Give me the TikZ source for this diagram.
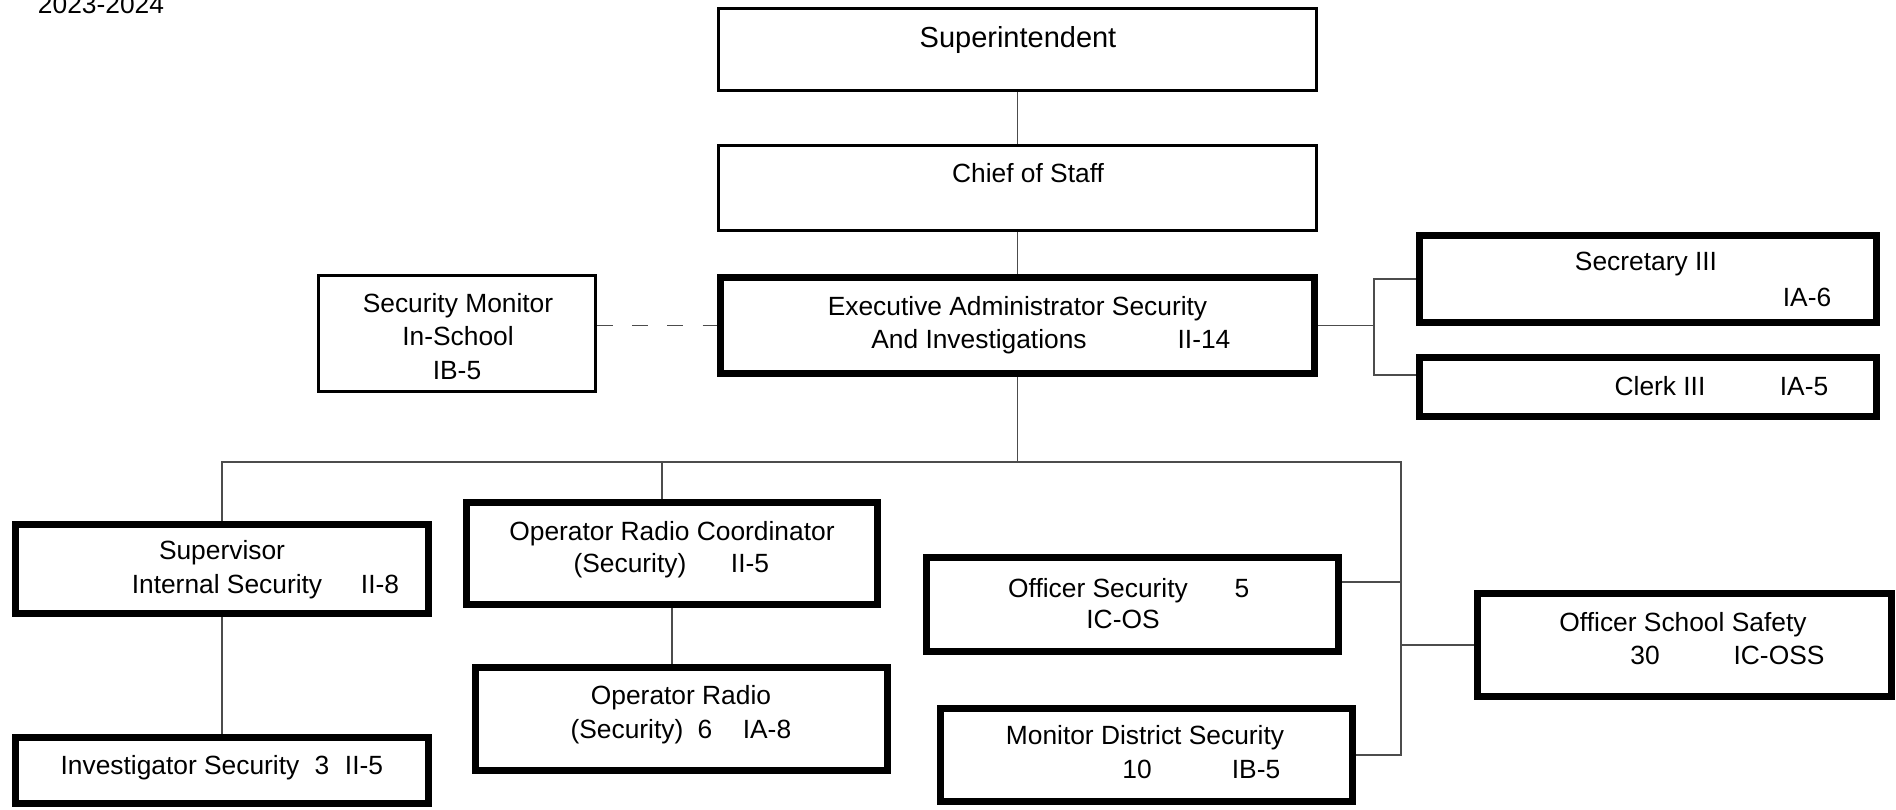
\documentclass[tikz,border=0pt]{standalone}
\usepackage{fontspec}
\setmainfont{Liberation Sans}
\usetikzlibrary{positioning}

\tikzset{
  thinbox/.style={draw, line width=1.9pt, inner sep=0pt},
  thickbox/.style={draw, line width=4pt, inner sep=0pt},
  link/.style={draw=black!70, line width=0.75pt},
  txt/.style={anchor=base, inner sep=0pt, font=\fontsize{15}{18}\selectfont},
}

\begin{document}
\begin{tikzpicture}[x=0.02cm, y=-0.02cm]
  \useasboundingbox (0,0) rectangle (1896,809);

  \node[txt] (year) at (101,13) {2023-2024};

  % top of the chart
  \node[thinbox, minimum width=11.96cm, minimum height=1.64cm] (super) at (1017.5,49.5) {};
  \node[thinbox, minimum width=11.96cm, minimum height=1.70cm] (chief) at (1017.5,188) {};
  \node[thickbox, minimum width=11.88cm, minimum height=1.92cm] (exec) at (1017.5,325.5) {};
  \node[thinbox, minimum width=5.54cm, minimum height=2.32cm] (secmon) at (457,333.5) {};
  \node[thickbox, minimum width=9.14cm, minimum height=1.74cm] (secr) at (1648,279) {};
  \node[thickbox, minimum width=9.14cm, minimum height=1.18cm] (clerk) at (1648,387) {};

  \node[txt, font=\fontsize{16.5}{20}\selectfont] (superT) at (1018,47) {Superintendent};
  \node[txt] (chiefT) at (1028,182) {Chief of Staff};
  \node[txt] (execT1) at (1017.5,315) {Executive Administrator Security};
  \node[txt] (execT2) at (979,348) {And Investigations};
  \node[txt] (execC) at (1204,348) {II-14};
  \node[txt] (secmonT1) at (458,312) {Security Monitor};
  \node[txt] (secmonT2) at (458,345) {In-School};
  \node[txt] (secmonC) at (457,379) {IB-5};
  \node[txt] (secrT) at (1646,270) {Secretary III};
  \node[txt] (secrC) at (1807,306) {IA-6};
  \node[txt] (clerkT) at (1660,395) {Clerk III};
  \node[txt] (clerkC) at (1804,395) {IA-5};

  % lower row
  \node[thickbox, minimum width=8.26cm, minimum height=1.78cm] (supv) at (222,569) {};
  \node[thickbox, minimum width=8.26cm, minimum height=1.32cm] (invs) at (222,770.5) {};
  \node[thickbox, minimum width=8.22cm, minimum height=2.04cm] (orc) at (672,553.5) {};
  \node[thickbox, minimum width=8.24cm, minimum height=2.06cm] (orad) at (681.5,719) {};
  \node[thickbox, minimum width=8.24cm, minimum height=1.88cm] (offsec) at (1132.5,604.5) {};
  \node[thickbox, minimum width=8.24cm, minimum height=1.86cm] (mds) at (1146.5,755) {};
  \node[thickbox, minimum width=8.28cm, minimum height=2.06cm] (oss) at (1684.5,645) {};

  \node[txt] (supvT1) at (222,559) {Supervisor};
  \node[txt] (supvT2) at (227,593) {Internal Security};
  \node[txt] (supvC) at (380,593) {II-8};
  \node[txt] (invsT) at (180,774) {Investigator Security};
  \node[txt] (invsN) at (322,774) {3};
  \node[txt] (invsC) at (364,774) {II-5};
  \node[txt] (orcT1) at (672,540) {Operator Radio Coordinator};
  \node[txt] (orcT2) at (630,572) {(Security)};
  \node[txt] (orcC) at (750,572) {II-5};
  \node[txt] (oradT1) at (681,704) {Operator Radio};
  \node[txt] (oradT2) at (627,738) {(Security)};
  \node[txt] (oradN) at (705,738) {6};
  \node[txt] (oradC) at (767,738) {IA-8};
  \node[txt] (offsecT) at (1098,597) {Officer Security};
  \node[txt] (offsecN) at (1242,597) {5};
  \node[txt] (offsecC) at (1123,628) {IC-OS};
  \node[txt] (mdsT) at (1145,744) {Monitor District Security};
  \node[txt] (mdsN) at (1137,778) {10};
  \node[txt] (mdsC) at (1256,778) {IB-5};
  \node[txt] (ossT) at (1683,631) {Officer School Safety};
  \node[txt] (ossN) at (1645,664) {30};
  \node[txt] (ossC) at (1779,664) {IC-OSS};

  % connectors
  \coordinate (brk) at (1374,325.5);
  \coordinate (busR) at (1401,462);
  \coordinate (orcTop) at ([xshift=-0.2cm]orc.north);
  \coordinate (offR) at ([yshift=0.45cm]offsec.east);

  \draw[link] (super) -- (chief);
  \draw[link] (chief) -- (exec);
  \draw[link, dash pattern=on 9pt off 11pt] (exec.west -| secmon.east) -- (exec.west);
  \draw[link] (exec.east) -- (brk);
  \draw[link] (secr.west) -| (brk) |- ([yshift=0.24cm]clerk.west);
  \draw[link] (exec.south) -- (exec.south |- busR);
  \draw[link] (supv.north) -- (supv.north |- busR) -- (busR) -- (busR |- mds.east) -- (mds.east);
  \draw[link] (orcTop) -- (orcTop |- busR);
  \draw[link] (offR) -- (offR -| busR);
  \draw[link] (oss.west) -- (oss.west -| busR);
  \draw[link] (supv) -- (invs);
  \draw[link] (orc.south) -- (orc.south |- orad.north);
\end{tikzpicture}
\end{document}
